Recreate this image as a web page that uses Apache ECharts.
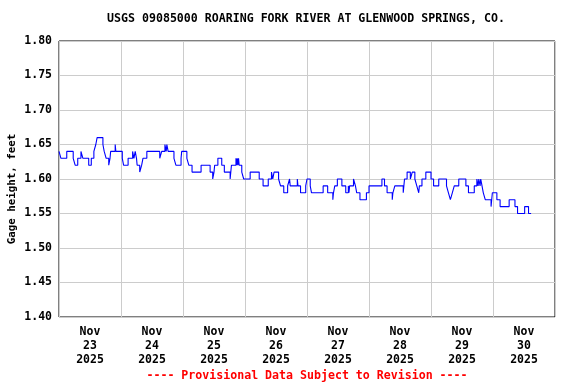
<!DOCTYPE html>
<html>
<head>
<meta charset="utf-8">
<script src="https://cdn.jsdelivr.net/npm/echarts@6/dist/echarts.min.js"></script>
<style>html,body{margin:0;padding:0;background:#fff}#c{width:576px;height:384px}</style>
</head>
<body>
<div id="c"></div>
<script>
// Hours since Nov 23 2025 00:00 at which each gage reading level begins
var changeHours = [0,0.75,3,5.5,6.25,7.25,8.5,9.25,11.5,12.5,13.5,14.25,14.75,17,17.5,18.25,19.25,19.75,20,21.75,22,24.5,25,26.75,28.5,29,29.5,30,30.25,31.25,32,32.5,34,39,39.75,41,41.5,41.75,42.25,44.5,45.25,47.25,47.5,49.5,50.25,51.5,55,58.5,59.5,60,60.25,61.5,63,64,66.25,66.5,66.75,68.5,68.75,69,69.25,69.5,69.75,70.75,71.5,74,77.5,79,81,82.25,82.75,83.25,85,85.75,87,88.5,89.25,89.5,92.25,92.5,93.5,95.5,96,97.25,97.75,102.25,104,106,106.25,106.75,107.75,109.5,111,112,112.25,112.5,114,114.75,115.25,116.5,119,120,125,126,127,129,129.25,130,133.25,133.5,133.75,134.75,136,136.75,137.75,138.5,139.25,139.5,140.5,142,144,145,147,150,150.75,151.5,152.25,153,154.75,157.5,158.5,160.75,161.75,162.25,162.5,163,163.25,163.75,164.25,165,167.25,167.5,167.75,169.5,170.75,174.25,176.5,177.5,180.25,181.75,182.75];
// Gage height (feet) for each level
var gageFeet = [1.64,1.63,1.64,1.63,1.62,1.63,1.64,1.63,1.62,1.63,1.64,1.65,1.66,1.65,1.64,1.63,1.62,1.63,1.64,1.65,1.64,1.63,1.62,1.63,1.64,1.63,1.64,1.63,1.62,1.61,1.62,1.63,1.64,1.63,1.64,1.65,1.64,1.65,1.64,1.63,1.62,1.63,1.64,1.63,1.62,1.61,1.62,1.61,1.60,1.61,1.62,1.63,1.62,1.61,1.60,1.61,1.62,1.63,1.62,1.63,1.62,1.63,1.62,1.61,1.60,1.61,1.60,1.59,1.60,1.61,1.60,1.61,1.60,1.59,1.58,1.59,1.60,1.59,1.60,1.59,1.58,1.59,1.60,1.59,1.58,1.59,1.58,1.57,1.58,1.59,1.60,1.59,1.58,1.59,1.58,1.59,1.60,1.59,1.58,1.57,1.58,1.59,1.60,1.59,1.58,1.57,1.58,1.59,1.58,1.59,1.60,1.61,1.60,1.61,1.60,1.59,1.58,1.59,1.60,1.61,1.60,1.59,1.60,1.59,1.58,1.57,1.58,1.59,1.60,1.59,1.58,1.59,1.60,1.59,1.60,1.59,1.60,1.59,1.58,1.57,1.56,1.57,1.58,1.57,1.56,1.57,1.56,1.55,1.56,1.55,1.55];
var tickLabels = ['Nov\n23\n2025','Nov\n24\n2025','Nov\n25\n2025','Nov\n26\n2025','Nov\n27\n2025','Nov\n28\n2025','Nov\n29\n2025','Nov\n30\n2025'];
var titleText = 'USGS 09085000 ROARING FORK RIVER AT GLENWOOD SPRINGS, CO.';
var footerText = '---- Provisional Data Subject to Revision ----';
var yName = 'Gage height, feet';

var FONT = '"DejaVu Sans Mono", "Liberation Mono", monospace';
var data = changeHours.map(function (h, i) { return [h, gageFeet[i]]; });

var chart = echarts.init(document.getElementById('c'), null, {renderer: 'canvas'});
chart.setOption({
  animation: false,
  backgroundColor: '#fff',
  grid: {left: 59, right: 21, top: 41, bottom: 67, outerBoundsMode: 'none', containLabel: false,
         show: true, borderColor: '#000', borderWidth: 1, backgroundColor: 'transparent'},
  graphic: [
    {type: 'text', x: 306, y: 19, style: {text: titleText, textAlign: 'center', textVerticalAlign: 'middle', font: 'bold 11.6px ' + FONT, fill: '#000'}},
    {type: 'text', x: 307, y: 376, style: {text: footerText, textAlign: 'center', textVerticalAlign: 'middle', font: 'bold 11.6px ' + FONT, fill: '#ff0000'}},
    {type: 'text', x: 12, y: 189, rotation: Math.PI / 2, style: {text: yName, textAlign: 'center', textVerticalAlign: 'middle', font: 'bold 10.8px ' + FONT, fill: '#000'}}
  ],
  xAxis: [
    {type: 'value', min: 0, max: 192, interval: 12,
     axisLine: {show: false}, axisTick: {show: false}, splitLine: {show: false},
     axisLabel: {margin: 8, lineHeight: 14, color: '#000', fontFamily: FONT, fontWeight: 'bold', fontSize: 11.5,
       formatter: function (v) { return (v % 24 === 12) ? tickLabels[(v - 12) / 24] : ''; }}},
    {type: 'value', min: 0, max: 192, interval: 24,
     axisLine: {show: false}, axisTick: {show: false}, axisLabel: {show: false},
     splitLine: {show: true, lineStyle: {color: '#cccccc', width: 1}}}
  ],
  yAxis: {type: 'value', min: 1.40, max: 1.80, interval: 0.05,
    axisLine: {show: false}, axisTick: {show: false},
    axisLabel: {margin: 7, color: '#000', fontFamily: FONT, fontWeight: 'bold', fontSize: 11.5,
      formatter: function (v) { return v.toFixed(2); }},
    splitLine: {show: true, lineStyle: {color: '#cccccc', width: 1}}},
  series: [{
    type: 'line', xAxisIndex: 0, data: data, step: 'end', symbol: 'none',
    lineStyle: {color: '#0000ff', width: 1.1}
  }]
});
</script>
</body>
</html>
